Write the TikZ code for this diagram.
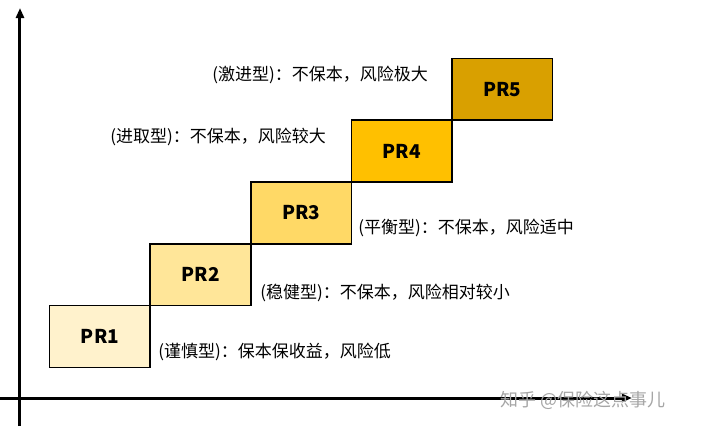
\documentclass[tikz,border=0pt]{standalone}
\usepackage{fontspec}
\setmainfont{Noto Sans CJK SC}
\usepackage{tikz}
\usetikzlibrary{arrows.meta, positioning}
\definecolor{lv1}{HTML}{FFF2CC}
\definecolor{lv2}{HTML}{FFE699}
\definecolor{lv3}{HTML}{FFD966}
\definecolor{lv4}{HTML}{FFC000}
\definecolor{lv5}{HTML}{D9A000}
\tikzset{
  axis/.style={line width=1.5pt, -{Triangle[length=5pt,width=4pt]}},
  level/.style={draw, thick, minimum width=50.3pt, minimum height=30.9pt, inner sep=0pt, outer sep=0pt, font=\fontsize{9.5}{10}\selectfont\bfseries},
  desc/.style={anchor=west, inner sep=0pt, font=\fontsize{8.5}{9}\selectfont}
}

\begin{document}
\begin{tikzpicture}[x=0.5pt, y=-0.5pt]
    \useasboundingbox (0,0) rectangle (720,429);
    \coordinate (o1) at (0,398);
    \coordinate (xend) at (632,398);
    \coordinate (o2) at (20,426);
    \coordinate (yend) at (20,8);
    \draw [axis] (o1) -- (xend);
    \draw [axis] (o2) -- (yend);

    \node (pr1) [level, fill=lv1] at (100,336.5) {PR1};
    \node (pr2) [level, fill=lv2, anchor=south west] at (pr1.north east) {PR2};
    \node (pr3) [level, fill=lv3, anchor=south west] at (pr2.north east) {PR3};
    \node (pr4) [level, fill=lv4, anchor=south west] at (pr3.north east) {PR4};
    \node (pr5) [level, fill=lv5, anchor=south west] at (pr4.north east) {PR5};

    \node (d5) [desc] at (212,75)  {(激进型)：不保本，风险极大};
    \node (d4) [desc] at (110,137) {(进取型)：不保本，风险较大};
    \node (d3) [desc] at (358,228) {(平衡型)：不保本，风险适中};
    \node (d2) [desc] at (260,293) {(稳健型)：不保本，风险相对较小};
    \node (d1) [desc] at (158,352) {(谨慎型)：保本保收益，风险低};

    \node (mark) [desc, text=gray!70, font=\fontsize{9}{10}\selectfont] at (500,400) {知乎 @保险这点事儿};
\end{tikzpicture}
\end{document}
